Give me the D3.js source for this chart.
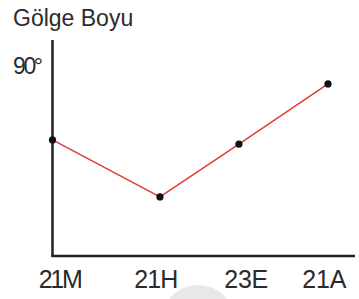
<!DOCTYPE html>
<html>
<head>
<meta charset="utf-8">
<script src="https://cdn.jsdelivr.net/npm/d3@7"></script>
<style>
  body { margin: 0; background: #fff; }
  text { font-family: "Liberation Sans", Arial, sans-serif; fill: #2b2b2b; }
</style>
</head>
<body>
<script>
// dates on the x axis
var dates = ["21M", "21H", "23E", "21A"];
// where each date sits along the axis (hand drawn, not evenly spaced)
var pointPos = [0, 1.17, 2.03, 3];
var labelPos = [0.09, 1.13, 2.11, 2.96];
// shadow length, in degrees of the y axis
var shadow = [55, 28, 53, 81.5];
var yTop = 90;

var w = 359, h = 299;

var svg = d3.select("body")
  .append("svg")
  .attr("width", w)
  .attr("height", h);

//scales
var x = d3.scaleLinear()
  .domain([0, 3])
  .range([52.5, 328]);
var y = d3.scaleLinear()
  .domain([0, yTop])
  .range([256, 66]);

//faint watermark circle at the bottom
svg.append("circle")
  .attr("cx", 198)
  .attr("cy", 322)
  .attr("r", 37)
  .style("fill", "#e8e8e8");

//axes drawn as plain lines (no ticks)
svg.append("line")
  .attr("x1", x(0)).attr("y1", 40)
  .attr("x2", x(0)).attr("y2", y(0) + 1)
  .style("stroke", "#222")
  .style("stroke-width", 2.5);
svg.append("line")
  .attr("x1", x(0) - 1.2).attr("y1", y(0))
  .attr("x2", 355).attr("y2", y(0))
  .style("stroke", "#222")
  .style("stroke-width", 2.5);

//title and top value
svg.append("text")
  .attr("x", 13)
  .attr("y", 26)
  .style("font-size", "23px")
  .text("Gölge Boyu");
svg.append("text")
  .attr("x", 13)
  .attr("y", 74)
  .style("font-size", "23px")
  .attr("textLength", 30)
  .text(yTop + "°");

//x labels
svg.selectAll(".xlab")
  .data(dates)
  .enter()
  .append("text")
  .attr("class", "xlab")
  .attr("text-anchor", "middle")
  .attr("x", function(d, i){ return x(labelPos[i]); })
  .attr("y", 288)
  .style("font-size", "25px")
  .attr("textLength", 44)
  .text(function(d){ return d; });

//red line
var pts = dates.map(function(d, i){ return [pointPos[i], shadow[i]]; });
var line = d3.line()
  .x(function(d){ return x(d[0]); })
  .y(function(d){ return y(d[1]); });
svg.append("path")
  .datum(pts)
  .attr("d", line)
  .style("fill", "none")
  .style("stroke", "#e23b3b")
  .style("stroke-width", 1.6);

//dots
svg.selectAll(".dot")
  .data(pts)
  .enter()
  .append("circle")
  .attr("class", "dot")
  .attr("cx", function(d){ return x(d[0]); })
  .attr("cy", function(d){ return y(d[1]); })
  .attr("r", 3.6)
  .style("fill", "#111");
</script>
</body>
</html>
